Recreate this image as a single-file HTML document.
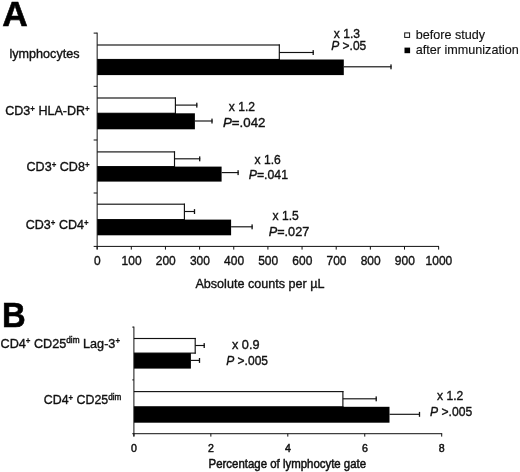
<!DOCTYPE html>
<html lang="en"><head><meta charset="utf-8"><title>Figure</title>
<style>
html,body{margin:0;padding:0;background:#fff;}
body{width:520px;height:472px;overflow:hidden;}
svg{display:block;font-family:'Liberation Sans', sans-serif;fill:#111;}
svg text{stroke:#111;stroke-width:.38px;}
svg text.thin{stroke-width:.15px;}
svg text.big{fill:#000;stroke:#000;stroke-width:.6px;}
svg text.bold{stroke-width:.5px;}
svg .sup{font-weight:bold;stroke-width:.2px;}
svg .dim{stroke-width:.45px;}
</style></head>
<body>
<svg width="520" height="472" viewBox="0 0 520 472">
<rect x="0" y="0" width="520" height="472" fill="#fff"/>
<rect x="97.15" y="45" width="182.15" height="14.5" fill="#fff"/>
<rect x="97.15" y="44.42" width="182.7" height="1.15" fill="#111"/>
<rect x="97.15" y="58.92" width="182.7" height="1.15" fill="#111"/>
<rect x="278.73" y="44.45" width="1.15" height="15.6" fill="#111"/>
<rect x="279.3" y="51.92" width="34.4" height="1.15" fill="#111"/>
<rect x="312.55" y="50.1" width="1.3" height="4.9" fill="#111"/>
<rect x="97.15" y="59.5" width="246.65" height="15.6" fill="#000"/>
<rect x="343.8" y="66.22" width="47.7" height="1.15" fill="#111"/>
<rect x="390.35" y="64.4" width="1.3" height="4.9" fill="#111"/>
<rect x="97.15" y="98" width="78.25" height="15.3" fill="#fff"/>
<rect x="97.15" y="97.42" width="78.8" height="1.15" fill="#111"/>
<rect x="97.15" y="112.72" width="78.8" height="1.15" fill="#111"/>
<rect x="174.83" y="97.45" width="1.15" height="16.4" fill="#111"/>
<rect x="175.4" y="104.52" width="21.9" height="1.15" fill="#111"/>
<rect x="196.15" y="102.7" width="1.3" height="4.9" fill="#111"/>
<rect x="97.15" y="113.3" width="97.75" height="16" fill="#000"/>
<rect x="194.9" y="120.42" width="17.6" height="1.15" fill="#111"/>
<rect x="211.35" y="118.6" width="1.3" height="4.9" fill="#111"/>
<rect x="97.15" y="151.9" width="77.35" height="14.7" fill="#fff"/>
<rect x="97.15" y="151.33" width="77.9" height="1.15" fill="#111"/>
<rect x="97.15" y="166.03" width="77.9" height="1.15" fill="#111"/>
<rect x="173.93" y="151.35" width="1.15" height="15.8" fill="#111"/>
<rect x="174.5" y="158.23" width="25.7" height="1.15" fill="#111"/>
<rect x="199.05" y="156.4" width="1.3" height="4.9" fill="#111"/>
<rect x="97.15" y="166.6" width="124.45" height="15" fill="#000"/>
<rect x="221.6" y="172.03" width="17" height="1.15" fill="#111"/>
<rect x="237.45" y="170.2" width="1.3" height="4.9" fill="#111"/>
<rect x="97.15" y="204.2" width="87.25" height="15.4" fill="#fff"/>
<rect x="97.15" y="203.62" width="87.8" height="1.15" fill="#111"/>
<rect x="97.15" y="219.03" width="87.8" height="1.15" fill="#111"/>
<rect x="183.83" y="203.65" width="1.15" height="16.5" fill="#111"/>
<rect x="184.4" y="210.93" width="10.6" height="1.15" fill="#111"/>
<rect x="193.85" y="209.1" width="1.3" height="4.9" fill="#111"/>
<rect x="97.15" y="219.6" width="133.95" height="15.7" fill="#000"/>
<rect x="231.1" y="226.23" width="21.5" height="1.15" fill="#111"/>
<rect x="251.45" y="224.4" width="1.3" height="4.9" fill="#111"/>
<rect x="96.65" y="32.6" width="1" height="216.8" fill="#111"/>
<rect x="93.65" y="32.6" width="3.5" height="1" fill="#111"/>
<rect x="93.65" y="85.8" width="3.5" height="1" fill="#111"/>
<rect x="93.65" y="139.5" width="3.5" height="1" fill="#111"/>
<rect x="93.65" y="192.5" width="3.5" height="1" fill="#111"/>
<rect x="93.65" y="245.9" width="3.5" height="1" fill="#111"/>
<rect x="97.15" y="245.9" width="341.85" height="1" fill="#111"/>
<rect x="96.65" y="246.4" width="1" height="3.2" fill="#111"/>
<text x="94.12" y="264.9" font-size="13.2" textLength="6.67" lengthAdjust="spacingAndGlyphs">0</text>
<rect x="130.8" y="246.4" width="1" height="3.2" fill="#111"/>
<text x="121.6" y="264.9" font-size="13.2" textLength="20.01" lengthAdjust="spacingAndGlyphs">100</text>
<rect x="164.95" y="246.4" width="1" height="3.2" fill="#111"/>
<text x="155.75" y="264.9" font-size="13.2" textLength="20.01" lengthAdjust="spacingAndGlyphs">200</text>
<rect x="199.1" y="246.4" width="1" height="3.2" fill="#111"/>
<text x="189.9" y="264.9" font-size="13.2" textLength="20.01" lengthAdjust="spacingAndGlyphs">300</text>
<rect x="233.25" y="246.4" width="1" height="3.2" fill="#111"/>
<text x="224.05" y="264.9" font-size="13.2" textLength="20.01" lengthAdjust="spacingAndGlyphs">400</text>
<rect x="267.4" y="246.4" width="1" height="3.2" fill="#111"/>
<text x="258.19" y="264.9" font-size="13.2" textLength="20.01" lengthAdjust="spacingAndGlyphs">500</text>
<rect x="301.55" y="246.4" width="1" height="3.2" fill="#111"/>
<text x="292.34" y="264.9" font-size="13.2" textLength="20.01" lengthAdjust="spacingAndGlyphs">600</text>
<rect x="335.7" y="246.4" width="1" height="3.2" fill="#111"/>
<text x="326.5" y="264.9" font-size="13.2" textLength="20.01" lengthAdjust="spacingAndGlyphs">700</text>
<rect x="369.85" y="246.4" width="1" height="3.2" fill="#111"/>
<text x="360.65" y="264.9" font-size="13.2" textLength="20.01" lengthAdjust="spacingAndGlyphs">800</text>
<rect x="404" y="246.4" width="1" height="3.2" fill="#111"/>
<text x="394.8" y="264.9" font-size="13.2" textLength="20.01" lengthAdjust="spacingAndGlyphs">900</text>
<rect x="438.15" y="246.4" width="1" height="3.2" fill="#111"/>
<text x="425.61" y="264.9" font-size="13.2" textLength="26.68" lengthAdjust="spacingAndGlyphs">1000</text>
<text x="195.4" y="287.7" font-size="13.7" textLength="129.2" lengthAdjust="spacingAndGlyphs">Absolute counts per µL</text>
<text x="9.5" y="57.8" font-size="13.4" textLength="70" lengthAdjust="spacingAndGlyphs">lymphocytes</text>
<text x="5.2" y="115" font-size="13.6" textLength="84.5" lengthAdjust="spacingAndGlyphs">CD3<tspan class="sup" font-size="8.5" dy="-2.6">+</tspan><tspan dy="2.6"> HLA-DR</tspan><tspan class="sup" font-size="8.5" dy="-2.6">+</tspan></text>
<text x="26.5" y="171" font-size="13.6" textLength="63" lengthAdjust="spacingAndGlyphs">CD3<tspan class="sup" font-size="8.5" dy="-2.6">+</tspan><tspan dy="2.6"> CD8</tspan><tspan class="sup" font-size="8.5" dy="-2.6">+</tspan></text>
<text x="25.8" y="229" font-size="13.6" textLength="62.7" lengthAdjust="spacingAndGlyphs">CD3<tspan class="sup" font-size="8.5" dy="-2.6">+</tspan><tspan dy="2.6"> CD4</tspan><tspan class="sup" font-size="8.5" dy="-2.6">+</tspan></text>
<text x="333.75" y="37.5" font-size="13.4" textLength="26.25" lengthAdjust="spacingAndGlyphs">x 1.3</text>
<text x="331.25" y="49.5" font-size="13.4" textLength="35" lengthAdjust="spacingAndGlyphs"><tspan font-style="italic">P</tspan> &gt;.05</text>
<text x="228.75" y="110.75" font-size="13.4" textLength="26.25" lengthAdjust="spacingAndGlyphs">x 1.2</text>
<text x="223" y="126.75" font-size="13.4" textLength="42.5" lengthAdjust="spacingAndGlyphs"><tspan font-style="italic">P</tspan>=.042</text>
<text x="254.5" y="164" font-size="13.4" textLength="26.25" lengthAdjust="spacingAndGlyphs">x 1.6</text>
<text x="248.75" y="179.25" font-size="13.4" textLength="39.25" lengthAdjust="spacingAndGlyphs"><tspan font-style="italic">P</tspan>=.041</text>
<text x="272.5" y="220" font-size="13.4" textLength="26.25" lengthAdjust="spacingAndGlyphs">x 1.5</text>
<text x="268.75" y="235.75" font-size="13.4" textLength="40.5" lengthAdjust="spacingAndGlyphs"><tspan font-style="italic">P</tspan>=.027</text>
<rect x="404.7" y="32.9" width="4.9" height="4.5" fill="#fff" stroke="#111" stroke-width="1"/>
<rect x="404.5" y="47.6" width="5.6" height="5.6" fill="#000"/>
<text x="415.75" y="39.2" font-size="12.8" textLength="69.25" lengthAdjust="spacingAndGlyphs" class="thin">before study</text>
<text x="415.75" y="54.2" font-size="12.8" textLength="103" lengthAdjust="spacingAndGlyphs" class="thin">after immunization</text>
<text x="2.3" y="25.7" font-size="34.6" font-weight="bold" textLength="25.5" lengthAdjust="spacingAndGlyphs" class="big">A</text>
<text x="1.9" y="326.6" font-size="34.7" font-weight="bold" textLength="23.7" lengthAdjust="spacingAndGlyphs" class="big">B</text>
<rect x="133.9" y="338.5" width="61.3" height="14.6" fill="#fff"/>
<rect x="133.9" y="337.93" width="61.85" height="1.15" fill="#111"/>
<rect x="133.9" y="352.53" width="61.85" height="1.15" fill="#111"/>
<rect x="194.62" y="337.95" width="1.15" height="15.7" fill="#111"/>
<rect x="195.2" y="344.93" width="9.5" height="1.15" fill="#111"/>
<rect x="203.55" y="343.1" width="1.3" height="4.9" fill="#111"/>
<rect x="133.9" y="353.1" width="57" height="15.5" fill="#000"/>
<rect x="190.9" y="359.82" width="9.1" height="1.15" fill="#111"/>
<rect x="198.85" y="358" width="1.3" height="4.9" fill="#111"/>
<rect x="133.9" y="391.6" width="209" height="15.2" fill="#fff"/>
<rect x="133.9" y="391.03" width="209.55" height="1.15" fill="#111"/>
<rect x="133.9" y="406.23" width="209.55" height="1.15" fill="#111"/>
<rect x="342.32" y="391.05" width="1.15" height="16.3" fill="#111"/>
<rect x="342.9" y="398.23" width="33.8" height="1.15" fill="#111"/>
<rect x="375.55" y="396.4" width="1.3" height="4.9" fill="#111"/>
<rect x="133.9" y="406.8" width="255.6" height="15.9" fill="#000"/>
<rect x="389.5" y="413.73" width="30.5" height="1.15" fill="#111"/>
<rect x="418.85" y="411.9" width="1.3" height="4.9" fill="#111"/>
<rect x="133.4" y="326.6" width="1" height="109.8" fill="#111"/>
<rect x="132.3" y="326.6" width="1.6" height="1" fill="#111"/>
<rect x="132.3" y="379.4" width="1.6" height="1" fill="#111"/>
<rect x="132.3" y="433.2" width="309.9" height="1" fill="#111"/>
<rect x="133.4" y="433.7" width="1" height="2.9" fill="#111"/>
<text x="131.05" y="451.8" font-size="11.6" textLength="5.9" lengthAdjust="spacingAndGlyphs" class="bold">0</text>
<rect x="210.35" y="433.7" width="1" height="2.9" fill="#111"/>
<text x="208" y="451.8" font-size="11.6" textLength="5.9" lengthAdjust="spacingAndGlyphs" class="bold">2</text>
<rect x="287.3" y="433.7" width="1" height="2.9" fill="#111"/>
<text x="284.95" y="451.8" font-size="11.6" textLength="5.9" lengthAdjust="spacingAndGlyphs" class="bold">4</text>
<rect x="364.25" y="433.7" width="1" height="2.9" fill="#111"/>
<text x="361.9" y="451.8" font-size="11.6" textLength="5.9" lengthAdjust="spacingAndGlyphs" class="bold">6</text>
<rect x="441.2" y="433.7" width="1" height="2.9" fill="#111"/>
<text x="438.85" y="451.8" font-size="11.6" textLength="5.9" lengthAdjust="spacingAndGlyphs" class="bold">8</text>
<text x="208.6" y="468.25" font-size="12.5" textLength="157.5" lengthAdjust="spacingAndGlyphs" class="bold">Percentage of lymphocyte gate</text>
<text x="0.5" y="347.5" font-size="13.6" textLength="119.5" lengthAdjust="spacingAndGlyphs">CD4<tspan class="sup" font-size="8.5" dy="-3.7">+</tspan><tspan dy="3.7"> CD25</tspan><tspan class="dim" font-size="8.9" dy="-4.3">dim</tspan><tspan dy="4.3"> Lag-3</tspan><tspan class="sup" font-size="8.5" dy="-3.7">+</tspan></text>
<text x="43.75" y="404.25" font-size="13.6" textLength="77.5" lengthAdjust="spacingAndGlyphs">CD4<tspan class="sup" font-size="8.5" dy="-3.7">+</tspan><tspan dy="3.7"> CD25</tspan><tspan class="dim" font-size="8.9" dy="-4.3">dim</tspan></text>
<text x="232" y="349.25" font-size="13.4" textLength="27.5" lengthAdjust="spacingAndGlyphs">x 0.9</text>
<text x="226.25" y="365" font-size="13.4" textLength="41.75" lengthAdjust="spacingAndGlyphs"><tspan font-style="italic">P</tspan> &gt;.005</text>
<text x="437" y="400" font-size="13.4" textLength="26.25" lengthAdjust="spacingAndGlyphs">x 1.2</text>
<text x="430" y="415.5" font-size="13.4" textLength="42.2" lengthAdjust="spacingAndGlyphs"><tspan font-style="italic">P</tspan> &gt;.005</text>
</svg>
</body></html>
